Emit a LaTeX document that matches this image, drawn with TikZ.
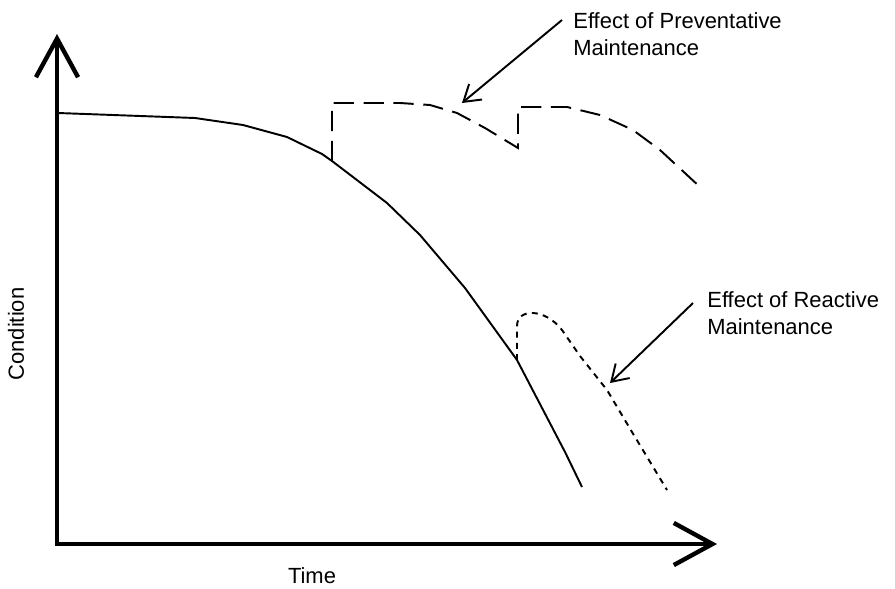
\documentclass[tikz,border=0pt]{standalone}
\usepackage{fontspec}
\setmainfont{Liberation Sans}
\usetikzlibrary{arrows.meta,positioning}

\begin{document}
\begin{tikzpicture}[x=0.02cm,y=-0.02cm,
    axis/.style={line width=2.5pt,-{Straight Barb[length=22pt,width=24pt,line width=2.5pt]}},
    note/.style={line width=1.1pt,-{Straight Barb[length=9pt,width=11.5pt]}},
    wear/.style={line width=1.1pt,line join=round},
    prevline/.style={line width=1.1pt,dash pattern=on 11.5pt off 5.5pt},
    reactline/.style={line width=1.1pt,dash pattern=on 3.4pt off 3pt},
    lbl/.style={inner sep=0pt,font=\fontsize{12.5}{15.3}\selectfont}]
  \useasboundingbox (0,0) rectangle (895,588);
  % axes
  \coordinate (origin) at (57,544);
  \coordinate (ytop) at (57,34);
  \coordinate (xend) at (717,544);
  \draw[axis] (origin) -- (ytop);
  \draw[axis] ([xshift=-1.2pt]origin) -- (xend);
  \node[lbl,rotate=90] (condlbl) at (16,334) {Condition};
  \node[lbl] (timelbl) at (312,576) {Time};
  % condition curve without maintenance
  \coordinate (pm) at (332,161);
  \coordinate (rm) at (517,360);
  \draw[wear] (58,113) -- (195,118) -- (243,125) -- (287,137) -- (322,154)
    -- (pm) -- (387,203) -- (420,235) -- (465,288) -- (rm) -- (565,452) -- (582,487);
  % preventative maintenance
  \draw[prevline] (pm) -- (332,103) -- (400,103) -- (430,105) -- (457,113)
    -- (485,128) -- (518,148) -- (518,107) -- (567,107) -- (600,115)
    -- (633,130) -- (660,150) -- (700,187);
  % reactive maintenance
  \draw[reactline] (rm) -- (517,326) .. controls (517,308) and (545,308) .. (562,330)
    -- (580,356) -- (607,390) -- (632,432) -- (667,490);
  % labels
  \node[lbl,anchor=north west,align=left] (prevlbl) at (573,12)
    {Effect of Preventative\\Maintenance};
  \node[lbl,anchor=north west,align=left] (reactlbl) at (707,291)
    {Effect of Reactive\\Maintenance};
  \coordinate (prevtail) at (562,20);
  \coordinate (prevtip) at (462,103);
  \coordinate (reacttail) at (693,303);
  \coordinate (reacttip) at (610,383);
  \draw[note] (prevtail) -- (prevtip);
  \draw[note] (reacttail) -- (reacttip);
\end{tikzpicture}
\end{document}
